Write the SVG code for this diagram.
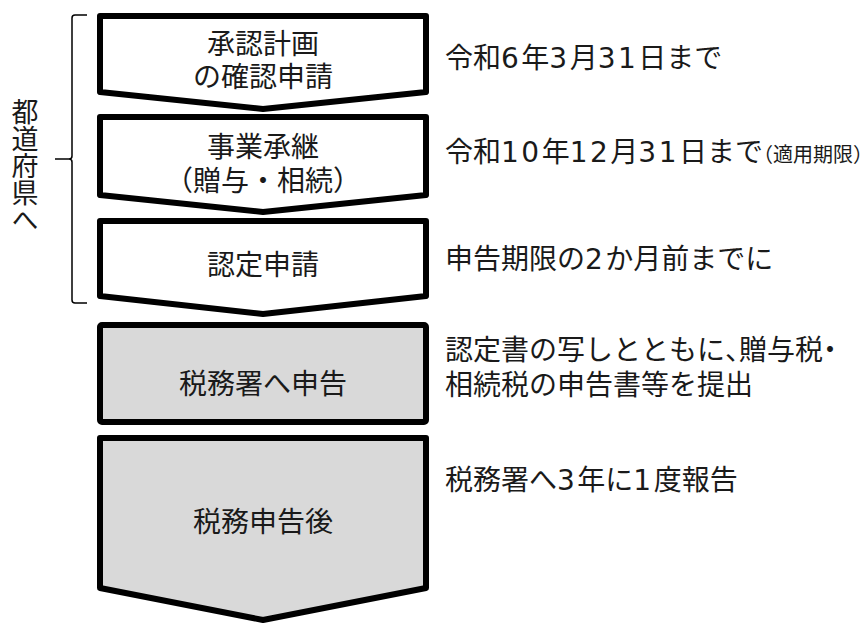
<svg xmlns="http://www.w3.org/2000/svg" width="864" height="624" viewBox="0 0 864 624">
<style>
.step{stroke:#000;stroke-width:6;stroke-linejoin:round}
.w{fill:#fff}
.g{fill:#d9d9d9}
text{font-family:"Liberation Sans","Noto Sans CJK JP",sans-serif;fill:#1a1a1a}
.c{font-size:28px;text-anchor:middle}
.r{font-size:28px}
.s{font-size:20px;font-feature-settings:"halt"}
.h{font-feature-settings:"halt"}
.d{font-family:"DejaVu Sans",sans-serif;letter-spacing:2.5px}
.br{fill:none;stroke:#000;stroke-width:1.5}
</style>
<rect width="864" height="624" fill="#fff"/>
<g id="bracket">
<path class="br" d="M87,15 H75 Q72,15 72,18 V156 Q72,159 69,159 H55 M69,159 Q72,159 72,162 V300 Q72,303 75,303 H87"/>
<text x="25" y="98" font-size="27" writing-mode="vertical-rl" style="font-family:'Noto Sans CJK JP',sans-serif">都道府県へ</text>
</g>
<g id="step1">
<path class="step w" d="M100,16 H426 V92 L263,109 L100,92 Z"/>
<text class="c" x="263" y="54">承認計画<tspan x="263" dy="33">の確認申請</tspan></text>
</g>
<g id="step2">
<path class="step w" d="M100,117 H426 V195 L263,212 L100,195 Z"/>
<text class="c" x="263" y="157">事業承継<tspan x="263" dy="34">（贈与・相続）</tspan></text>
</g>
<g id="step3">
<path class="step w" d="M100,221 H426 V296 L263,314 L100,296 Z"/>
<text class="c" x="263" y="275">認定申請</text>
</g>
<g id="step4">
<rect class="step g" x="100" y="325" width="326" height="97" rx="2"/>
<text class="c" x="263" y="394">税務署へ申告</text>
</g>
<g id="step5">
<path class="step g" d="M100,438 H426 V588 L263,620 L100,588 Z"/>
<text class="c" x="263" y="532">税務申告後</text>
</g>
<g id="notes">
<text class="r" x="445" y="68">令和<tspan class="d">6</tspan>年<tspan class="d">3</tspan>月<tspan class="d">31</tspan>日まで</text>
<text class="r" x="445" y="162">令和<tspan class="d">10</tspan>年<tspan class="d">12</tspan>月<tspan class="d">31</tspan>日まで<tspan class="s">（適用期限）</tspan></text>
<text class="r" x="445" y="269">申告期限の<tspan class="d">2</tspan>か月前までに</text>
<text class="r" x="445" y="360">認定書の写しとともに<tspan class="h">、</tspan>贈与税<tspan class="h">・</tspan><tspan x="445" dy="35">相続税の申告書等を提出</tspan></text>
<text class="r" x="445" y="490">税務署へ<tspan class="d">3</tspan>年に<tspan class="d">1</tspan>度報告</text>
</g>
</svg>
